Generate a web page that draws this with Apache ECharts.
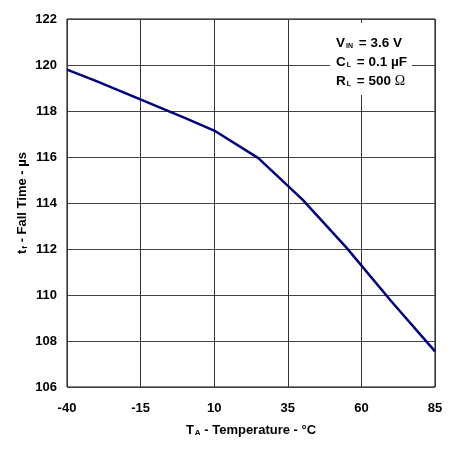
<!DOCTYPE html>
<html>
<head>
<meta charset="utf-8">
<script src="https://cdn.jsdelivr.net/npm/echarts@6/dist/echarts.min.js"></script>
<style>
  html, body { margin: 0; padding: 0; background: #fff; }
  #chart { width: 455px; height: 451px; }
</style>
</head>
<body>
<div id="chart"></div>
<script>
// fall time vs temperature
var xTicks = ['-40', '-15', '10', '35', '60', '85'];
var temps = [-40, -30, 0, 10, 25, 40, 55, 70, 85];
var fallTime = [119.8, 119.3, 117.7, 117.15, 115.95, 114.15, 112.05, 109.75, 107.55];

var FONT = 'Liberation Sans, Arial, sans-serif';

var chart = echarts.init(document.getElementById('chart'));

var points = [];
for (var i = 0; i < temps.length; i++) {
  points.push([temps[i], fallTime[i]]);
}

var option = {
  animation: false,
  grid: {
    left: 67, right: 20, top: 19, bottom: 64,
    show: true, borderColor: '#000', borderWidth: 1
  },
  xAxis: [{
    // tick labels / vertical grid lines
    type: 'category',
    data: xTicks,
    boundaryGap: false,
    axisLine: { show: false },
    axisTick: { show: false },
    axisLabel: { margin: 15, fontFamily: FONT, fontWeight: 'bold', fontSize: 13, color: '#000' },
    splitLine: { show: true, lineStyle: { color: '#333', width: 1 } },
    name: '{b|T}{s|A}{b| - Temperature - °C}',
    nameLocation: 'middle',
    nameGap: 36,
    nameTextStyle: {
      rich: {
        b: { fontFamily: FONT, fontWeight: 'bold', fontSize: 13, color: '#000' },
        s: { fontFamily: FONT, fontWeight: 'bold', fontSize: 8, color: '#000', verticalAlign: 'bottom', padding: [6, 0, 0, 1] }
      }
    }
  }, {
    type: 'value',
    min: -40,
    max: 85,
    show: false
  }],
  yAxis: {
    type: 'value',
    min: 106,
    max: 122,
    interval: 2,
    axisLine: { show: false },
    axisTick: { show: false },
    axisLabel: { margin: 10, fontFamily: FONT, fontWeight: 'bold', fontSize: 13, color: '#000' },
    splitLine: { show: true, lineStyle: { color: '#444', width: 1 } },
    name: '{b|t}{s|f}{b| - Fall Time - µs}',
    nameLocation: 'middle',
    nameRotate: 90,
    nameGap: 38,
    nameMoveOverlap: false,
    nameTextStyle: {
      rich: {
        b: { fontFamily: FONT, fontWeight: 'bold', fontSize: 13, color: '#000' },
        s: { fontFamily: FONT, fontWeight: 'bold', fontSize: 8, color: '#000', verticalAlign: 'bottom', padding: [6, 0, 0, 1] }
      }
    }
  },
  series: [{
    type: 'line',
    xAxisIndex: 1,
    data: points,
    showSymbol: false,
    lineStyle: { color: '#000080', width: 2.5 },
    z: 5
  }],
  graphic: [{
    type: 'rect',
    left: 330, top: 23,
    shape: { width: 82, height: 72 },
    style: { fill: '#fff' },
    z: 10
  }, {
    type: 'text',
    left: 336, top: 36,
    style: {
      text: '{b|V}{s|IN}{b| = 3.6 V}',
      rich: {
        b: { fontFamily: FONT, fontWeight: 'bold', fontSize: 13.5, fill: '#000' },
        s: { fontFamily: FONT, fontWeight: 'bold', fontSize: 7, fill: '#000', verticalAlign: 'bottom', padding: [6, 2, 0, 1] }
      }
    },
    z: 11
  }, {
    type: 'text',
    left: 336, top: 55,
    style: {
      text: '{b|C}{s|L}{b| = 0.1 µF}',
      rich: {
        b: { fontFamily: FONT, fontWeight: 'bold', fontSize: 13.5, fill: '#000' },
        s: { fontFamily: FONT, fontWeight: 'bold', fontSize: 7, fill: '#000', verticalAlign: 'bottom', padding: [6, 2, 0, 1] }
      }
    },
    z: 11
  }, {
    type: 'text',
    left: 336, top: 74,
    style: {
      text: '{b|R}{s|L}{b| = 500 }{o|Ω}',
      rich: {
        b: { fontFamily: FONT, fontWeight: 'bold', fontSize: 13.5, fill: '#000' },
        s: { fontFamily: FONT, fontWeight: 'bold', fontSize: 7, fill: '#000', verticalAlign: 'bottom', padding: [6, 2, 0, 1] },
        o: { fontFamily: 'Liberation Serif, serif', fontSize: 14, fill: '#000' }
      }
    },
    z: 11
  }]
};

chart.setOption(option);
</script>
</body>
</html>
